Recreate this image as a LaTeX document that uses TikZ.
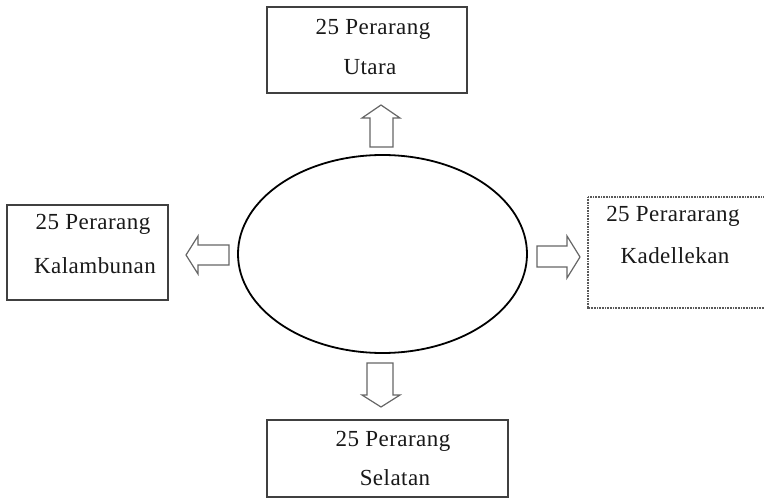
\documentclass[tikz,border=0pt]{standalone}
\usepackage{fontspec}
\setmainfont{Liberation Serif}
\usetikzlibrary{shapes.geometric}
\begin{document}
\begin{tikzpicture}[x=1pt,y=-1pt,
  boxst/.style={draw=black!75,line width=1.4pt,fill=white},
  dotbox/.style={draw=black!65,line width=1.4pt,dash pattern=on 1pt off 0.6pt},
  lbl/.style={font=\fontsize{23}{27}\selectfont\addfontfeature{LetterSpace=2},text=black!90,inner sep=0pt,anchor=center},
  barrow/.style={draw=black!60,line width=1.2pt,fill=white,line join=miter}]
\useasboundingbox (0,0) rectangle (764,500);
\fill[white] (0,0) rectangle (764,500);
% boxes
\draw[boxst] (267,7) rectangle (467,93);
\draw[boxst] (7,205) rectangle (168,300);
\draw[dotbox] (588,197) rectangle (780,308);
\draw[boxst] (267,420) rectangle (508,497);
% ellipse
\node[draw=black,line width=1.8pt,ellipse,minimum width=289pt,minimum height=198pt,inner sep=0pt] (c) at (382.5,254) {};
% labels
\node[lbl] (t1) at (373,29) {25 Perarang};
\node[lbl] (t2) at (370,67) {Utara};
\node[lbl] (l1) at (93,224) {25 Perarang};
\node[lbl] (l2) at (95,266) {Kalambunan};
\node[lbl] (r1) at (673,216) {25 Perararang};
\node[lbl] (r2) at (675,256) {Kadellekan};
\node[lbl] (b1) at (393,441) {25 Perarang};
\node[lbl] (b2) at (395,478) {Selatan};
% block arrows
\draw[barrow] (370,147)--(370,118)--(362,118)--(381,105)--(400,118)--(393,118)--(393,147)--cycle;
\draw[barrow] (367,363)--(393,363)--(393,395)--(400,395)--(381,407)--(362,395)--(367,395)--cycle;
\draw[barrow] (229,245)--(229,265)--(198,265)--(198,274)--(186,255)--(198,236)--(198,245)--cycle;
\draw[barrow] (537,246)--(567,246)--(567,236)--(580,257)--(567,278)--(567,267)--(537,267)--cycle;
\end{tikzpicture}
\end{document}
